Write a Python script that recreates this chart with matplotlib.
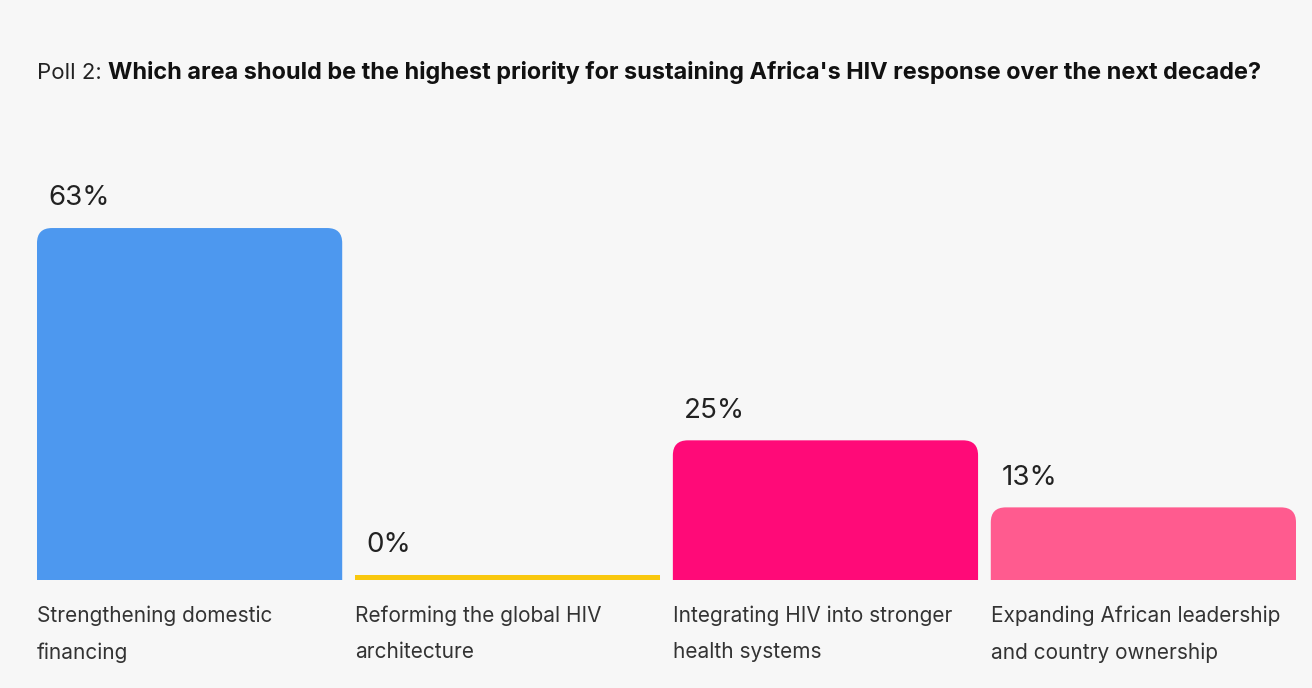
import matplotlib
matplotlib.use("Agg")
import matplotlib.pyplot as plt
from matplotlib.patches import PathPatch, Rectangle
from matplotlib.path import Path

plt.rcParams['font.family'] = ['Inter', 'DejaVu Sans']

categories = ["Strengthening domestic\nfinancing",
              "Reforming the global HIV\narchitecture",
              "Integrating HIV into stronger\nhealth systems",
              "Expanding African leadership\nand country ownership"]
values = [63, 0, 25, 13]
colors = ["#4d98ef", "#f9c80e", "#ff0a78", "#ff5b8f"]

W, H = 1312, 688
fig = plt.figure(figsize=(W / 100, H / 100), dpi=100)
fig.patch.set_facecolor("#f7f7f7")

# axes: baseline at y=580px, 0..75% spans 419px
ax = fig.add_axes([37 / W, 108 / H, 1259 / W, 419 / H])
ax.set_xlim(0, 3.96)
ax.set_ylim(0, 75)
ax.axis("off")

bw = 0.96
rx = 15 * 3.96 / 1259
ry = 15 * 75 / 419


def top_rounded(x0, w, h):
    verts = [(x0, 0), (x0, h - ry), (x0, h), (x0 + rx, h),
             (x0 + w - rx, h), (x0 + w, h), (x0 + w, h - ry),
             (x0 + w, 0), (x0, 0)]
    codes = [Path.MOVETO, Path.LINETO, Path.CURVE3, Path.CURVE3,
             Path.LINETO, Path.CURVE3, Path.CURVE3, Path.LINETO, Path.CLOSEPOLY]
    return Path(verts, codes)


for i, (v, c) in enumerate(zip(values, colors)):
    if v > 0:
        ax.add_patch(PathPatch(top_rounded(i, bw, v), fc=c, ec="none"))
    else:
        ax.add_patch(Rectangle((i, 0), bw, 0.9, fc=c, ec="none"))
    ax.text(i + 0.035, max(v, 0.9) + 3, "%d%%" % v, fontsize=20,
            color="#222222", va="bottom", ha="left")
    ax.text(i, -4.6, categories[i], fontsize=15, color="#333333",
            va="top", ha="left", linespacing=2.0)

t1 = fig.text(37 / W, 1 - 73 / H, "Poll 2: ", fontsize=16, color="#222222", va="center")
fig.canvas.draw()
bb = t1.get_window_extent()
fig.text(bb.x1 / W, 1 - 73 / H,
         "Which area should be the highest priority for sustaining Africa's HIV response over the next decade?",
         fontsize=16.9, fontweight="bold", color="#111111", va="center")

fig.savefig("out.png", dpi=100, facecolor=fig.get_facecolor())
